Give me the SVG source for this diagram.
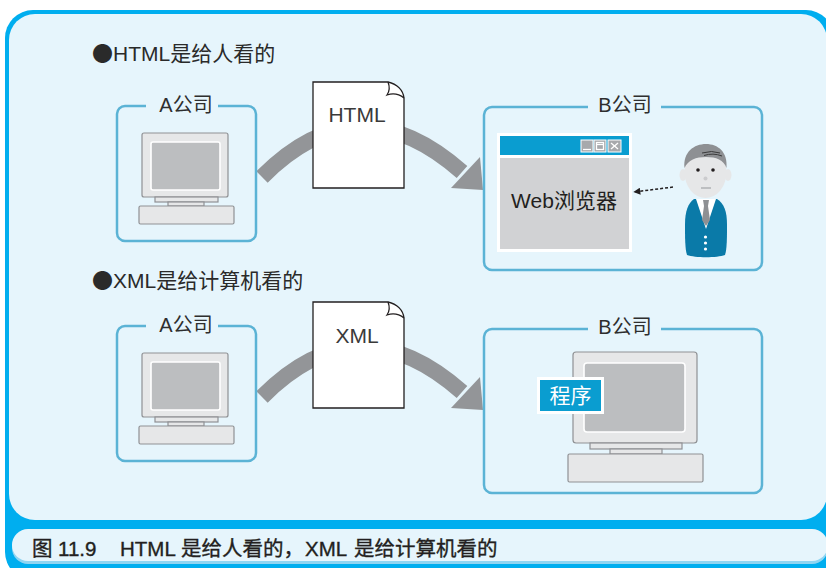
<svg xmlns="http://www.w3.org/2000/svg" width="826" height="568" viewBox="0 0 826 568">
  <style>
    text { font-family: "Liberation Sans", "Noto Sans CJK SC", sans-serif; fill: #231f20; }
    .hdr { font-size: 21px; fill: #2a2a2a; }
    .dot { font-family: "Noto Sans CJK SC", sans-serif; }
    .lbl { font-size: 20px; text-anchor: middle; fill: #2e2e2e; }
    .doc-t { font-size: 21px; text-anchor: middle; fill: #3a3a3a; }
    .cap { font-size: 20.5px; stroke: #231f20; stroke-width: 0.35; }
    .box { fill: none; stroke: #5bb3d5; stroke-width: 2.5; }
    .gap { fill: #e6f5fc; }
    .case { fill: #e6e7e8; stroke: #8f9194; stroke-width: 1.2; }
    .scr { fill: #bcbec0; stroke: #ffffff; stroke-width: 1.6; }
    .flow { fill: none; stroke: #939598; stroke-width: 16; }
    .head { fill: #939598; }
    .doc { fill: #ffffff; stroke: #231f20; stroke-width: 1.3; }
  </style>
  <defs>
    <marker id="dash-head" viewBox="0 0 10 10" refX="9" refY="5" markerWidth="9" markerHeight="7" orient="auto" markerUnits="userSpaceOnUse">
      <path d="M0,0 L10,5 L0,10 Z" fill="#231f20"/>
    </marker>
  </defs>

  <!-- frame -->
  <rect x="5" y="10" width="829" height="570" rx="28" fill="#00aeef"/>
  <rect x="9" y="14" width="818" height="506" rx="26" fill="#e6f5fc"/>
  <rect x="12" y="531" width="816" height="33" rx="16" fill="#8fd5f2"/>
  <rect x="12" y="529" width="816" height="32" rx="16" fill="#e6f5fc"/>

  <text class="hdr" x="92" y="61"><tspan class="dot">●</tspan>HTML是给人看的</text>
  <text class="hdr" x="92" y="288"><tspan class="dot">●</tspan>XML是给计算机看的</text>

  <!-- connectors -->
  <g id="connectors">
    <path class="flow" d="M262 177 Q358 80 462 172"/>
    <polygon class="head" points="451,188 480,157 483,190"/>
    <path class="flow" d="M262 397 Q358 300 462 392"/>
    <polygon class="head" points="451,408 480,377 483,410"/>
    <line x1="673" y1="187" x2="634" y2="192" stroke="#231f20" stroke-width="1.5" stroke-dasharray="3,2" marker-end="url(#dash-head)"/>
  </g>

  <!-- top row: company A -->
  <g id="a-company-1">
    <rect class="box" x="117" y="106" width="139" height="135" rx="8"/>
    <rect class="gap" x="146" y="98" width="72" height="14"/>
    <text class="lbl" x="186" y="112">A公司</text>
    <rect class="case" x="142" y="133" width="86" height="64" rx="2"/>
    <rect class="scr" x="151" y="142" width="69" height="48" rx="2"/>
    <rect class="case" x="155" y="197" width="63" height="5"/>
    <rect class="case" x="168" y="202" width="36" height="4"/>
    <rect class="case" x="139" y="206" width="95" height="18" rx="1.5"/>
  </g>

  <g id="html-doc">
    <path class="doc" d="M313 82 H388 C397 84 403 90 404 98 V188 H313 Z"/>
    <path d="M388 82 C390 87 389 92 387 95 C393 93 399 94 404 98" fill="none" stroke="#231f20" stroke-width="1.3"/>
    <text class="doc-t" x="357" y="122">HTML</text>
  </g>

  <!-- top row: company B with browser and user -->
  <g id="b-company-1">
    <rect class="box" x="484" y="107" width="278" height="163" rx="8"/>
    <rect class="gap" x="588" y="99" width="73" height="14"/>
    <text class="lbl" x="625" y="112">B公司</text>
  </g>

  <g id="browser">
    <rect x="497" y="133" width="135" height="119" fill="#ffffff"/>
    <rect x="500" y="136" width="129" height="19" fill="#0a9dd0"/>
    <rect x="500" y="158" width="129" height="91" fill="#d1d2d4"/>
    <g fill="#a7a9ac" stroke="#ffffff" stroke-width="1">
      <rect x="581" y="140" width="12" height="12"/>
      <rect x="594" y="140" width="12" height="12"/>
      <rect x="608" y="140" width="13" height="12"/>
    </g>
    <g stroke="#ffffff" stroke-width="1.3" fill="none">
      <line x1="583" y1="149.5" x2="591" y2="149.5"/>
      <rect x="596.5" y="142.5" width="7" height="7"/>
      <line x1="596.5" y1="144.5" x2="603.5" y2="144.5"/>
      <line x1="611" y1="143" x2="618" y2="149"/>
      <line x1="618" y1="143" x2="611" y2="149"/>
    </g>
    <text x="564" y="208" font-size="21" text-anchor="middle" fill="#3a3a3a">Web浏览器</text>
  </g>

  <g id="user">
    <ellipse cx="683" cy="175" rx="3.5" ry="6" fill="#e6e7e8"/>
    <ellipse cx="728" cy="175" rx="3.5" ry="6" fill="#e6e7e8"/>
    <ellipse cx="705.5" cy="172" rx="21" ry="26" fill="#e6e7e8"/>
    <path d="M684.5 168 C683 152 694 144 706 144 C718 144 728 152 726.5 168 C724 160 716 157 706 157 C696 157 688 160 684.5 168 Z" fill="#8e9093"/>
    <path d="M702 153 Q712 150 720 153 M704 155.5 Q713 152.5 722 156" fill="none" stroke="#3a3a3a" stroke-width="1"/>
    <circle cx="698" cy="170" r="1.8" fill="#231f20"/>
    <circle cx="713" cy="170" r="1.8" fill="#231f20"/>
    <circle cx="705.5" cy="178.5" r="2" fill="#cbccce"/>
    <line x1="701" y1="188" x2="711" y2="188" stroke="#a7a9ac" stroke-width="1.3"/>
    <path d="M694 199 C688 203 685 212 685 224 C685 238 685 249 687 255 C695 258 717 258 725 255 C727 249 727 238 727 224 C727 212 724 203 717 199 Z" fill="#0a7aa8"/>
    <path d="M696 199 H716 L706 229 Z" fill="#ffffff"/>
    <path d="M703 200 H709 L708 206 L710 220 L706 226 L702 220 L704 206 Z" fill="#8e9093"/>
    <circle cx="705.5" cy="237" r="1.6" fill="#ffffff"/>
    <circle cx="705.5" cy="243" r="1.6" fill="#ffffff"/>
    <circle cx="705.5" cy="249" r="1.6" fill="#ffffff"/>
  </g>

  <!-- bottom row: company A -->
  <g id="a-company-2">
    <rect class="box" x="117" y="326" width="139" height="135" rx="8"/>
    <rect class="gap" x="146" y="318" width="72" height="14"/>
    <text class="lbl" x="186" y="332">A公司</text>
    <rect class="case" x="142" y="353" width="86" height="64" rx="2"/>
    <rect class="scr" x="151" y="362" width="69" height="48" rx="2"/>
    <rect class="case" x="155" y="417" width="63" height="5"/>
    <rect class="case" x="168" y="422" width="36" height="4"/>
    <rect class="case" x="139" y="426" width="95" height="18" rx="1.5"/>
  </g>

  <g id="xml-doc">
    <path class="doc" d="M313 302 H388 C397 304 403 310 404 318 V408 H313 Z"/>
    <path d="M388 302 C390 307 389 312 387 315 C393 313 399 314 404 318" fill="none" stroke="#231f20" stroke-width="1.3"/>
    <text class="doc-t" x="357" y="343">XML</text>
  </g>

  <!-- bottom row: company B with program -->
  <g id="b-company-2">
    <rect class="box" x="484" y="329" width="278" height="164" rx="8"/>
    <rect class="gap" x="588" y="321" width="73" height="14"/>
    <text class="lbl" x="625" y="334">B公司</text>
    <rect class="case" x="573" y="352" width="124" height="91" rx="3"/>
    <rect class="scr" x="584" y="363" width="101" height="69" rx="3"/>
    <rect class="case" x="590" y="443" width="92" height="6"/>
    <rect class="case" x="610" y="449" width="52" height="5"/>
    <rect class="case" x="568" y="454" width="135" height="28" rx="1.5"/>
  </g>

  <g id="program">
    <rect x="537" y="377" width="67" height="37" fill="#ffffff"/>
    <rect x="540" y="380" width="61" height="31" fill="#0a9dd0"/>
    <text x="570.5" y="403" font-size="21" text-anchor="middle" style="fill:#ffffff">程序</text>
  </g>

  <text class="cap" y="556"><tspan x="32">图</tspan><tspan x="58">11.9</tspan><tspan x="120">HTML</tspan><tspan x="181">是给人看的，</tspan><tspan x="305">XML</tspan><tspan x="354">是给计算机看的</tspan></text>
</svg>
